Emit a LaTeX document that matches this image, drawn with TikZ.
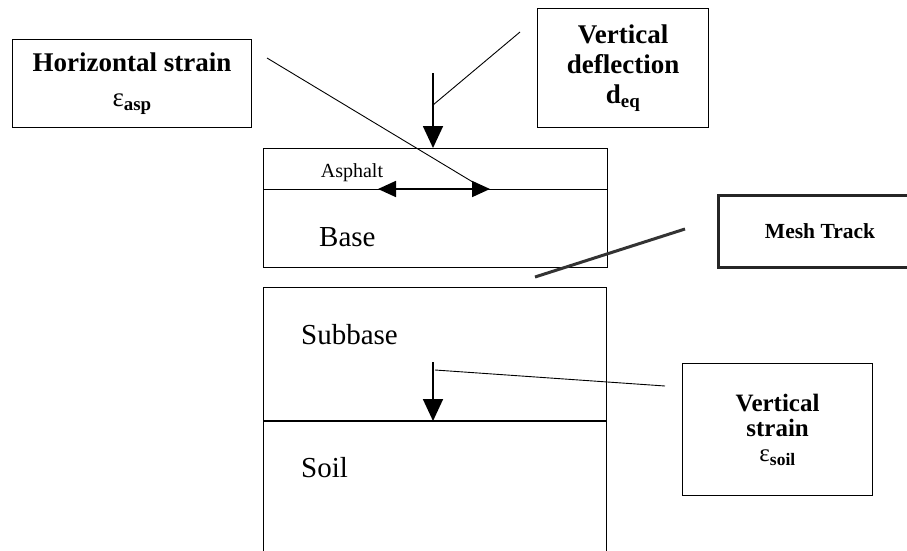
\documentclass[tikz,border=0pt]{standalone}
\usepackage{fontspec}
\setmainfont{Liberation Serif}
\usetikzlibrary{positioning,arrows.meta}
\tikzstyle{tbox}=[rectangle, draw=black, line width=1.2pt, anchor=north west,
                  inner sep=0pt, align=center, font=\fontsize{27}{30}\selectfont\bfseries]
\tikzstyle{mbox}=[rectangle, draw=black!85, line width=3pt, anchor=north west,
                  inner sep=0pt, align=center, font=\fontsize{21.5}{24}\selectfont\bfseries]
\tikzstyle{layer}=[rectangle, draw=black, line width=1.2pt, anchor=north west, inner sep=0pt]
\tikzstyle{lname}=[anchor=base west, inner sep=0pt, font=\fontsize{29}{32}\selectfont]
\tikzstyle{pline}=[-, line width=0.9pt]
\tikzstyle{parrow}=[-{Triangle[length=22pt,width=20pt]}, line width=1.8pt]
\tikzstyle{harrow}=[{Triangle[length=18pt,width=16pt]}-{Triangle[length=18pt,width=16pt]}, line width=1.8pt]
\newcommand{\eps}[1]{{\mdseries ε}\textsubscript{#1}}

\begin{document}
\begin{tikzpicture}[x=1pt, y=-1pt]
\useasboundingbox (0,0) rectangle (907,551);

% pavement layers
\node (ASPH) [layer, minimum width=344pt, minimum height=41pt] at (263,148) {};
\node (BASE) [layer, minimum width=344pt, minimum height=78pt] at (263,189) {};
\node (SUBB) [layer, minimum width=343pt, minimum height=134pt] at (263,287) {};
\node (SOIL) [layer, minimum width=343pt, minimum height=150pt] at (263,421) {};
 \draw[line width=2.6pt] (SOIL.north west) -- (SOIL.north east);

\node (ASPHT) [anchor=base, inner sep=0pt, font=\fontsize{20}{22}\selectfont] at (352,177) {Asphalt};
\node (BASET) [lname] at (319,246) {Base};
\node (SUBBT) [lname] at (301,344) {Subbase};
\node (SOILT) [lname] at (301,477) {Soil};

% labels
\node (HSTR) [tbox, minimum width=239pt, minimum height=88pt] at (12,39)
   {Horizontal strain\\[5pt] \eps{asp}};
\node (VDEF) [tbox, minimum width=171pt, minimum height=119pt] at (537,8)
   {Vertical\\ deflection\\ d\textsubscript{eq}};
\node (VSTR) [tbox, minimum width=190pt, minimum height=132pt,
   font=\fontsize{25}{25}\selectfont\bfseries] at (682,363)
   {Vertical\\ strain\\ \eps{soil}};
\node (MESH) [mbox, minimum width=203pt, minimum height=72pt] at (717,194) {Mesh Track};

% vertical deflection
\coordinate (DTOP) at (433,73);
\coordinate (DJOIN) at (433,105);
\coordinate (DFREE) at (520,32);
 \draw[parrow] (DTOP) -- (DTOP |- ASPH.north);
 \draw[pline] (DFREE) -- (DJOIN);

% horizontal strain
\coordinate (HLEFT) at (378,189);
\coordinate (HRIGHT) at (490,189);
\coordinate (HFREE) at (267,58);
\coordinate (HJOIN) at (481,187);
 \draw[harrow] (HLEFT) -- (HRIGHT);
 \draw[pline] (HFREE) -- (HJOIN);

% vertical strain
\coordinate (STOP) at (433,362);
\coordinate (SJOIN) at (435,370);
\coordinate (SFREE) at (665,386);
 \draw[parrow] (STOP) -- (STOP |- SOIL.north);
 \draw[pline] (SJOIN) -- (SFREE);

% mesh track
\coordinate (MLOW) at (535,277);
\coordinate (MHIGH) at (685,229);
 \draw[line width=3pt, black!80] (MLOW) -- (MHIGH);

\end{tikzpicture}
\end{document}
